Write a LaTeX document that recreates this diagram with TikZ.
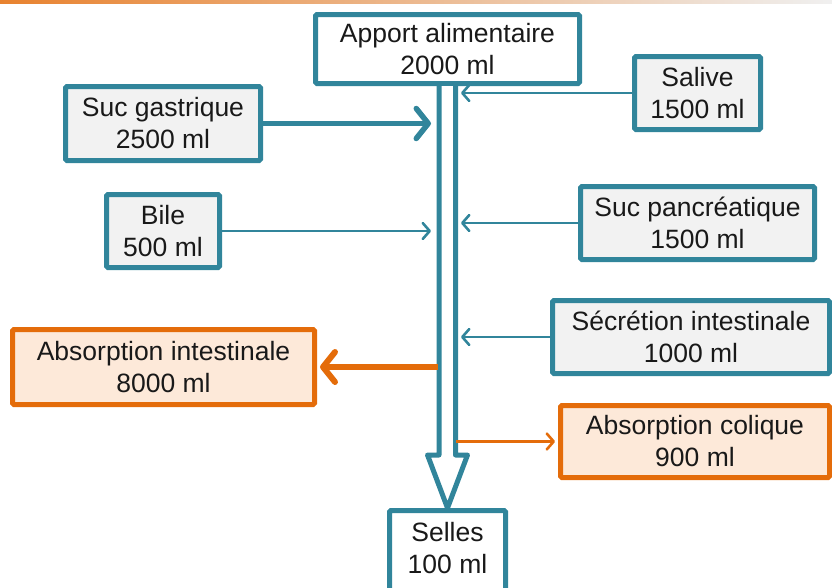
\documentclass[tikz,border=0pt]{standalone}
\usepackage{fontspec}
\setmainfont{Liberation Sans}
\usetikzlibrary{arrows.meta,calc}
\definecolor{tealc}{RGB}{49,133,155}
\definecolor{orangec}{RGB}{228,108,10}
\definecolor{orangefill}{RGB}{253,233,217}
\definecolor{grayfill}{RGB}{242,242,242}
\begin{document}
\begin{tikzpicture}[x=1pt,y=-1pt,
  box/.style={draw=tealc, line width=5pt, rounded corners=1.5pt, inner sep=0pt, align=center,
    font=\fontsize{26.5}{32}\selectfont, text=black!90},
  whitebox/.style={box, fill=white},
  graybox/.style={box, fill=grayfill},
  obox/.style={box, draw=orangec, fill=orangefill},
  smallarrow/.style={draw=tealc, line width=2.6pt, -{Straight Barb[length=7pt,width=16pt,round]}},
  bigarrow/.style={draw=tealc, line width=5.5pt, -{Straight Barb[length=12pt,width=30pt,round]}},
  osmall/.style={draw=orangec, line width=2.6pt, -{Straight Barb[length=7pt,width=16pt,round]}},
  obig/.style={draw=orangec, line width=6pt, -{Straight Barb[length=12pt,width=30pt,round]}},
  hollow/.style={draw=tealc, line width=5pt, fill=white, line join=round}
]
\useasboundingbox (0,0) rectangle (832,587);
\clip (0,0) rectangle (832,587);
\shade[left color=orangec!85, right color=gray!12] (0,0) rectangle (832,3);

% boxes
\node[whitebox, minimum width=264pt, minimum height=69pt] (apport) at (447.5,49) {Apport alimentaire\\2000 ml};
\node[graybox, minimum width=126pt, minimum height=73pt] (salive) at (697.5,93) {Salive\\1500 ml};
\node[graybox, minimum width=195pt, minimum height=74pt] (gastrique) at (163,123.5) {Suc gastrique\\2500 ml};
\node[graybox, minimum width=113pt, minimum height=73pt] (bile) at (163,231) {Bile\\500 ml};
\node[graybox, minimum width=234pt, minimum height=73pt] (panc) at (697.5,223) {Suc pancréatique\\1500 ml};
\node[graybox, minimum width=277pt, minimum height=73pt] (secr) at (691,337) {Sécrétion intestinale\\1000 ml};
\node[obox, minimum width=302pt, minimum height=75pt] (absint) at (163.5,367) {Absorption intestinale\\8000 ml};
\node[obox, minimum width=269pt, minimum height=72pt] (abscol) at (695,441.5) {Absorption colique\\900 ml};
\node[whitebox, minimum width=116pt, minimum height=81pt] (selles) at (447.5,551) {Selles\\100 ml\rule[-6pt]{0pt}{6pt}};

% central hollow arrow
\draw[hollow] ($(apport.south)+(-8.5,0)$) -- ($(selles.north)+(-8.5,-53)$) -- ($(selles.north)+(-20,-53)$)
  -- (selles.north) -- ($(selles.north)+(20,-53)$) -- ($(selles.north)+(8,-53)$) -- ($(apport.south)+(8,0)$);

% free ends
\coordinate (lefttip) at (431,0);
\coordinate (righttip) at (461,0);
\coordinate (leftline) at (438,0);
\coordinate (rightline) at (456,0);

\draw[bigarrow] (gastrique.east) -- (gastrique.east -| lefttip);
\draw[smallarrow] (bile.east) -- (bile.east -| lefttip);
\draw[smallarrow] (salive.west) -- (salive.west -| righttip);
\draw[smallarrow] (panc.west) -- (panc.west -| righttip);
\draw[smallarrow] (secr.west) -- (secr.west -| righttip);
\draw[obig, shorten >=3pt] (absint.east -| leftline) -- (absint.east);
\draw[osmall, shorten >=3pt] (abscol.west -| rightline) -- (abscol.west);
\end{tikzpicture}
\end{document}
